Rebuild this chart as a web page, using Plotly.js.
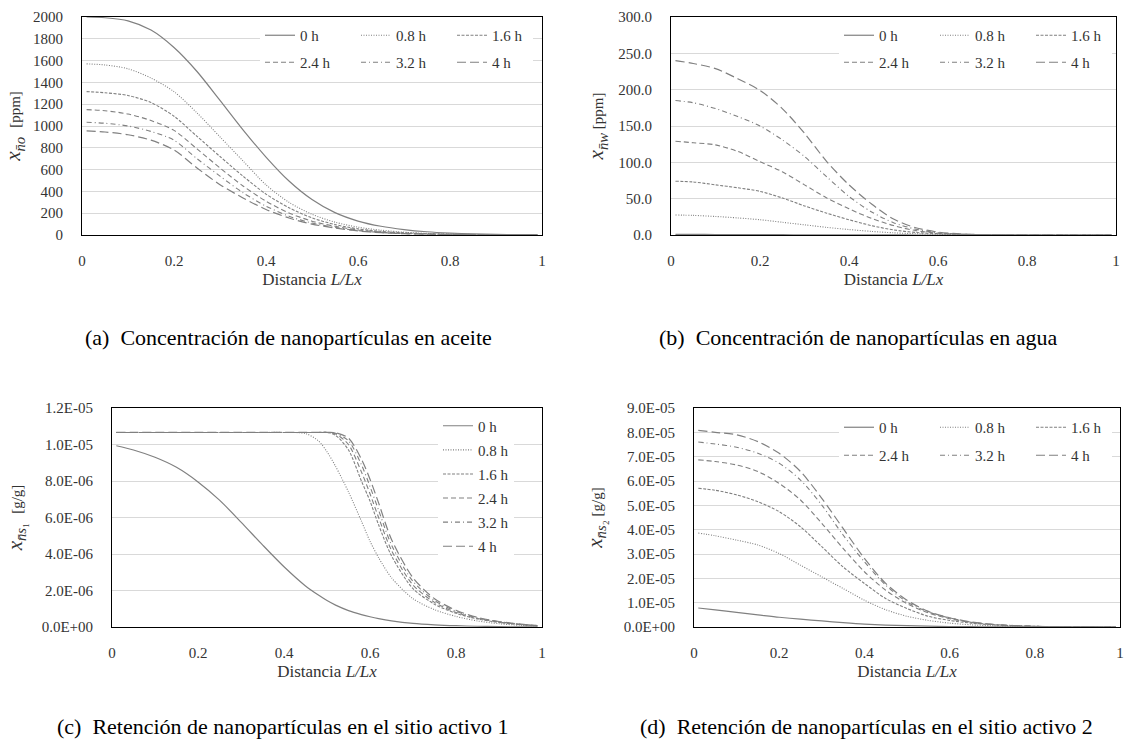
<!DOCTYPE html>
<html>
<head>
<meta charset="utf-8">
<script src="https://cdn.plot.ly/plotly-3.0.1.min.js"></script>
<style>html,body{margin:0;padding:0;background:#fff;}#chart{width:1126px;height:740px;}</style>
</head>
<body>
<div id="chart"></div>
<script>
// ---------- DATA ----------
const seriesNames = ['0 h', '0.8 h', '1.6 h', '2.4 h', '3.2 h', '4 h'];

// common distance grid (L/Lx) used for panels a, b, d
const distance = [0.01,0.05,0.1,0.15,0.2,0.25,0.3,0.35,0.4,0.45,0.5,0.55,0.6,0.65,0.7,0.75,0.8,0.85,0.9,0.95,0.99];
// finer grid for panel c
const distanceC = [0.01,0.05,0.1,0.15,0.2,0.25,0.3,0.35,0.4,0.45,0.48,0.5,0.52,0.55,0.58,0.6,0.62,0.65,0.7,0.75,0.8,0.85,0.9,0.95,0.99];

// (a) nanoparticles in oil [ppm]
const oil_0h  = [2000,1993,1965,1880,1720,1500,1235,965,715,495,325,205,128,80,50,30,18,10,6,3,2];
const oil_08h = [1570,1560,1525,1440,1315,1120,900,680,460,300,190,118,72,44,26,15,9,5,3,2,1];
const oil_16h = [1315,1305,1280,1215,1090,905,720,540,375,250,157,96,56,33,20,12,7,4,2,1,1];
const oil_24h = [1150,1140,1110,1050,960,790,615,450,310,202,127,80,46,27,16,9,5,3,2,1,1];
const oil_32h = [1035,1025,1000,950,870,700,540,388,265,172,110,70,40,23,13,8,4,2,1,1,0];
const oil_4h  = [955,945,920,870,780,615,462,340,234,156,100,64,37,21,12,7,4,2,1,1,0];

// (b) nanoparticles in water [ppm]
const wat_0h  = [0.8,0.8,0.7,0.6,0.5,0.4,0.3,0.2,0.15,0.1,0.05,0.03,0.02,0.01,0,0,0,0,0,0,0];
const wat_08h = [27.5,27,25.5,23.5,21,17.5,14,10.5,7.5,5,3,1.8,1,0.5,0.3,0.2,0.1,0.1,0,0,0];
const wat_16h = [74,73,69,65,60,51,40,30,21,13,7,3.5,1.8,0.8,0.4,0.2,0.1,0.1,0,0,0];
const wat_24h = [129,127,124,115,101,87,69,51,36,23,13,6,2.5,1,0.5,0.2,0.1,0.1,0,0,0];
const wat_32h = [185,182,174,163,150,131,108,80,53,32,17,8,3,1.2,0.5,0.2,0.1,0.1,0,0,0];
const wat_4h  = [240,236,229,215,199,174,140,101,69,43,22,10,4,1.5,0.6,0.3,0.1,0.1,0,0,0];

// (c) retention, active site 1 [g/g]
const s1_0h  = [9.93e-6,9.7e-6,9.3e-6,8.75e-6,7.95e-6,6.95e-6,5.75e-6,4.5e-6,3.3e-6,2.25e-6,1.75e-6,1.45e-6,1.2e-6,0.9e-6,0.68e-6,0.56e-6,0.46e-6,0.34e-6,0.2e-6,0.12e-6,0.07e-6,0.04e-6,0.02e-6,0.01e-6,0.01e-6];
const s1_08h = [1.066e-5,1.066e-5,1.066e-5,1.066e-5,1.066e-5,1.066e-5,1.066e-5,1.066e-5,1.066e-5,1.06e-5,1.02e-5,0.96e-5,0.88e-5,0.74e-5,0.58e-5,0.47e-5,0.38e-5,0.27e-5,0.155e-5,0.095e-5,0.058e-5,0.033e-5,0.018e-5,0.009e-5,0.005e-5];
const s1_16h = [1.066e-5,1.066e-5,1.066e-5,1.066e-5,1.066e-5,1.066e-5,1.066e-5,1.066e-5,1.066e-5,1.066e-5,1.066e-5,1.066e-5,1.05e-5,0.97e-5,0.80e-5,0.69e-5,0.56e-5,0.39e-5,0.21e-5,0.125e-5,0.075e-5,0.044e-5,0.025e-5,0.013e-5,0.007e-5];
const s1_24h = [1.066e-5,1.066e-5,1.066e-5,1.066e-5,1.066e-5,1.066e-5,1.066e-5,1.066e-5,1.066e-5,1.066e-5,1.066e-5,1.066e-5,1.058e-5,1.00e-5,0.85e-5,0.73e-5,0.60e-5,0.42e-5,0.23e-5,0.135e-5,0.08e-5,0.047e-5,0.027e-5,0.014e-5,0.007e-5];
const s1_32h = [1.066e-5,1.066e-5,1.066e-5,1.066e-5,1.066e-5,1.066e-5,1.066e-5,1.066e-5,1.066e-5,1.066e-5,1.066e-5,1.066e-5,1.062e-5,1.02e-5,0.89e-5,0.77e-5,0.64e-5,0.45e-5,0.25e-5,0.145e-5,0.086e-5,0.05e-5,0.029e-5,0.015e-5,0.008e-5];
const s1_4h  = [1.066e-5,1.066e-5,1.066e-5,1.066e-5,1.066e-5,1.066e-5,1.066e-5,1.066e-5,1.066e-5,1.066e-5,1.066e-5,1.066e-5,1.064e-5,1.035e-5,0.92e-5,0.81e-5,0.68e-5,0.48e-5,0.27e-5,0.155e-5,0.092e-5,0.053e-5,0.03e-5,0.016e-5,0.008e-5];

// (d) retention, active site 2 [g/g]
const s2_0h  = [0.78e-5,0.7e-5,0.6e-5,0.5e-5,0.4e-5,0.32e-5,0.25e-5,0.18e-5,0.12e-5,0.08e-5,0.055e-5,0.035e-5,0.02e-5,0.012e-5,0.007e-5,0.004e-5,0.002e-5,0.001e-5,0.001e-5,0,0];
const s2_08h = [3.86e-5,3.75e-5,3.57e-5,3.37e-5,3.02e-5,2.54e-5,2.06e-5,1.58e-5,1.1e-5,0.71e-5,0.44e-5,0.27e-5,0.16e-5,0.09e-5,0.05e-5,0.025e-5,0.012e-5,0.006e-5,0.003e-5,0.001e-5,0.001e-5];
const s2_16h = [5.7e-5,5.62e-5,5.43e-5,5.15e-5,4.74e-5,4.12e-5,3.3e-5,2.47e-5,1.79e-5,1.17e-5,0.76e-5,0.44e-5,0.27e-5,0.16e-5,0.09e-5,0.05e-5,0.025e-5,0.012e-5,0.006e-5,0.003e-5,0.001e-5];
const s2_24h = [6.87e-5,6.8e-5,6.66e-5,6.39e-5,5.9e-5,5.22e-5,4.26e-5,3.23e-5,2.27e-5,1.51e-5,0.96e-5,0.58e-5,0.34e-5,0.19e-5,0.1e-5,0.055e-5,0.028e-5,0.014e-5,0.007e-5,0.003e-5,0.001e-5];
const s2_32h = [7.6e-5,7.52e-5,7.39e-5,7.14e-5,6.73e-5,6.04e-5,5.01e-5,3.78e-5,2.68e-5,1.72e-5,1.03e-5,0.62e-5,0.37e-5,0.2e-5,0.11e-5,0.06e-5,0.03e-5,0.015e-5,0.007e-5,0.003e-5,0.001e-5];
const s2_4h  = [8.08e-5,8.0e-5,7.9e-5,7.62e-5,7.14e-5,6.39e-5,5.29e-5,4.05e-5,2.82e-5,1.79e-5,1.1e-5,0.64e-5,0.38e-5,0.21e-5,0.11e-5,0.06e-5,0.03e-5,0.015e-5,0.007e-5,0.003e-5,0.001e-5];

// tick labels
const xTickVals = [0,0.2,0.4,0.6,0.8,1];
const xTickText = ['0','0.2','0.4','0.6','0.8','1'];
const yTickValsC = [0,2e-6,4e-6,6e-6,8e-6,1e-5,1.2e-5];
const yTickTextC = ['0.0E+00','2.0E-06','4.0E-06','6.0E-06','8.0E-06','1.0E-05','1.2E-05'];
const yTickValsD = [0,1e-5,2e-5,3e-5,4e-5,5e-5,6e-5,7e-5,8e-5,9e-5];
const yTickTextD = ['0.0E+00','1.0E-05','2.0E-05','3.0E-05','4.0E-05','5.0E-05','6.0E-05','7.0E-05','8.0E-05','9.0E-05'];

const captions = [
  '(a)\u2002Concentración de nanopartículas en aceite',
  '(b)\u2002Concentración de nanopartículas en agua',
  '(c)\u2002Retención de nanopartículas en el sitio activo 1',
  '(d)\u2002Retención de nanopartículas en el sitio activo 2'
];

// ---------- STYLE ----------
const W = 1126, H = 740;
const px = v => v / W;
const py = v => 1 - v / H;
const lineColor = '#808080';
const dashes = ['solid', '1px,1.5px', '3px,1.5px', '5px,3px', '5px,3px,1px,3px', '9px,4px'];
const widths = [1.2, 1.1, 1.1, 1.1, 1.1, 1.2];
const FONT = 'Liberation Serif';
const txtColor = '#333333';

const traces = [];
function addPanel(xs, ys, xa, ya, legendIds, legendWidths, groupPrefix) {
  ys.forEach((y, i) => {
    const t = {
      type: 'scatter', mode: 'lines', x: xs, y: y, name: seriesNames[i],
      xaxis: xa, yaxis: ya,
      line: {color: lineColor, width: widths[i], dash: dashes[i], shape: 'spline', smoothing: 0.8},
      legend: legendIds[i],
      hoverinfo: 'skip'
    };
    if (legendWidths) t.legendwidth = legendWidths[i];
    if (groupPrefix) t.legendgroup = groupPrefix + i;
    traces.push(t);
  });
}
const rowW = [51, 51, 36, 51, 51, 36];
addPanel(distance, [oil_0h, oil_08h, oil_16h, oil_24h, oil_32h, oil_4h], 'x', 'y',
  ['legend','legend','legend','legend2','legend2','legend2'], rowW);
addPanel(distance, [wat_0h, wat_08h, wat_16h, wat_24h, wat_32h, wat_4h], 'x2', 'y2',
  ['legend3','legend3','legend3','legend4','legend4','legend4'], rowW);
addPanel(distanceC, [s1_0h, s1_08h, s1_16h, s1_24h, s1_32h, s1_4h], 'x3', 'y3',
  ['legend5','legend5','legend5','legend5','legend5','legend5'], null, 'c');
addPanel(distance, [s2_0h, s2_08h, s2_16h, s2_24h, s2_32h, s2_4h], 'x4', 'y4',
  ['legend6','legend6','legend6','legend7','legend7','legend7'], rowW);

const tickFont = {family: FONT, size: 15, color: txtColor};
function xAxis(left, right, anchor) {
  return {
    domain: [px(left), px(right)], anchor: anchor, range: [0, 1],
    tickvals: xTickVals, ticktext: xTickText, tickfont: tickFont,
    showgrid: false, zeroline: false, showline: true, mirror: true,
    linecolor: '#000', linewidth: 1, ticks: '', ticklabelstandoff: 12,
    title: {text: 'Distancia <i>L/Lx</i>', font: {family: FONT, size: 17, color: txtColor}, standoff: 5},
    automargin: false, fixedrange: true
  };
}
function yAxis(top, bottom, anchor, range, extra, titleText, standoff) {
  return Object.assign({
    domain: [py(bottom), py(top)], anchor: anchor, range: range,
    tickfont: tickFont, showgrid: true, gridcolor: '#d9d9d9', gridwidth: 1,
    zeroline: false, showline: true, mirror: true, linecolor: '#000', linewidth: 1,
    ticks: '', ticklabelstandoff: 15,
    title: {text: titleText, font: {family: FONT, size: 21, color: txtColor}, standoff: standoff},
    automargin: false, fixedrange: true
  }, extra);
}
const unit = u => '<span style="font-size:15px">' + u + '</span>';
const legendRow = (x, y) => ({
  orientation: 'h', x: px(x), y: py(y), xanchor: 'left', yanchor: 'top',
  bgcolor: 'rgba(255,255,255,1)', borderwidth: 0,
  font: {family: FONT, size: 15, color: txtColor},
  entrywidthmode: 'pixels', traceorder: 'normal'
});

const layout = {
  width: W, height: H,
  margin: {l: 0, r: 0, t: 0, b: 0},
  paper_bgcolor: '#fff', plot_bgcolor: '#fff',
  font: {family: FONT, size: 15, color: txtColor},
  showlegend: true,
  xaxis: xAxis(82, 542, 'y'),
  yaxis: yAxis(17, 235, 'x', [0, 2000], {dtick: 200}, '<i>x</i><sub><i>n̄o</i></sub> ' + unit(' [ppm]'), 6),
  xaxis2: xAxis(671, 1116, 'y2'),
  yaxis2: yAxis(17, 235, 'x2', [0, 300], {dtick: 50, tickformat: '.1f'}, '<i>x</i><sub><i>n̄w</i></sub>' + unit(' [ppm]'), 8),
  xaxis3: xAxis(112, 542, 'y3'),
  yaxis3: yAxis(408, 627, 'x3', [0, 1.2e-5], {tickvals: yTickValsC, ticktext: yTickTextC}, '<i>x</i><sub><i>n̄s</i>₁</sub> ' + unit(' [g/g]'), 13),
  xaxis4: xAxis(694, 1120, 'y4'),
  yaxis4: yAxis(408, 627, 'x4', [0, 9e-5], {tickvals: yTickValsD, ticktext: yTickTextD}, '<i>x</i><sub><i>n̄s</i>₂</sub>' + unit(' [g/g]'), 15),
  legend: legendRow(260, 19),
  legend2: legendRow(260, 46),
  legend3: legendRow(839, 19),
  legend4: legendRow(839, 46),
  legend5: {orientation: 'v', x: px(438), y: py(409.5), xanchor: 'left', yanchor: 'top',
            bgcolor: '#fff', borderwidth: 0, font: {family: FONT, size: 15, color: txtColor}, tracegroupgap: 1.6},
  legend6: legendRow(839, 411),
  legend7: legendRow(839, 439),
  annotations: [
    {text: captions[0], x: px(288), y: py(337)},
    {text: captions[1], x: px(858), y: py(337)},
    {text: captions[2], x: px(282), y: py(726)},
    {text: captions[3], x: px(866), y: py(726)}
  ].map(a => Object.assign({xref: 'paper', yref: 'paper', showarrow: false, xanchor: 'center', yanchor: 'middle',
                             font: {family: FONT, size: 22, color: '#000'}}, a))
};

Plotly.newPlot('chart', traces, layout, {displayModeBar: false, staticPlot: true});
</script>
</body>
</html>
